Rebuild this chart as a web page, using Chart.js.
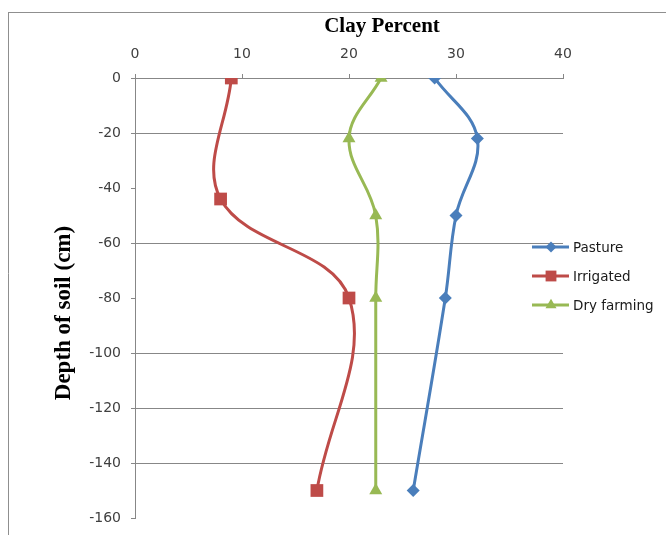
<!DOCTYPE html>
<html>
<head>
<meta charset="utf-8">
<script src="https://cdn.jsdelivr.net/npm/chart.js@4.4.0/dist/chart.umd.min.js"></script>
<style>
  html, body { margin: 0; padding: 0; background: #fff; }
  #wrap { width: 666px; height: 535px; position: relative; }
</style>
</head>
<body>
<div id="wrap"><canvas id="c" width="666" height="535"></canvas></div>
<script>
// Clay content (%) by soil depth (cm) for three land uses
const seriesNames = ['Pasture', 'Irrigated', 'Dry farming'];
const pastureClay = [28, 32, 30, 29, 26];
const pastureDepth = [0, -22, -50, -80, -150];
const irrigatedClay = [9, 8, 20, 17];
const irrigatedDepth = [0, -44, -80, -150];
const dryClay = [23, 20, 22.5, 22.5, 22.5];
const dryDepth = [0, -22, -50, -80, -150];

const clayTicks = [0, 10, 20, 30, 40];
const depthTicks = [0, -20, -40, -60, -80, -100, -120, -140, -160];

const xTitle = 'Clay Percent';
const yTitle = 'Depth of soil (cm)';

const colors = ['#4A7EBB', '#BE4B48', '#98B954'];
const markers = [
  { style: 'rectRot', radius: 6.5 },
  { style: 'rect', radius: 9 },
  { style: 'triangle', radius: 7.5 }
];

function pairs(xs, ys) { return xs.map((x, i) => ({ x: x, y: ys[i] })); }

const dataSets = [pairs(pastureClay, pastureDepth), pairs(irrigatedClay, irrigatedDepth), pairs(dryClay, dryDepth)];

const datasets = dataSets.map((d, i) => ({
  label: seriesNames[i],
  data: d,
  showLine: true,
  borderColor: colors[i],
  backgroundColor: colors[i],
  borderWidth: 3,
  tension: 0.38,
  pointStyle: markers[i].style,
  pointRadius: markers[i].radius,
  pointHoverRadius: markers[i].radius,
  pointBorderWidth: 0,
  pointBackgroundColor: colors[i],
  order: 3 - i
}));

const GRID = '#878787';
const tickFont = { family: 'DejaVu Sans', size: 14 };
const hiddenGrid = [-40, -80, -160];

// Outer frame, axis titles and legend
const decorations = {
  id: 'decorations',
  beforeDraw(chart) {
    const ctx = chart.ctx;
    ctx.save();
    ctx.strokeStyle = '#8f8f8f';
    ctx.lineWidth = 1;
    ctx.beginPath();
    ctx.moveTo(8, 12.5); ctx.lineTo(666, 12.5);
    ctx.moveTo(8.5, 12); ctx.lineTo(8.5, 535);
    ctx.stroke();
    ctx.restore();
  },
  afterDraw(chart) {
    const ctx = chart.ctx;
    ctx.save();
    ctx.fillStyle = '#000';
    ctx.font = 'bold 21px "Liberation Serif"';
    ctx.textAlign = 'center';
    ctx.textBaseline = 'middle';
    ctx.fillText(xTitle, 382, 27);

    ctx.translate(64, 313);
    ctx.rotate(-Math.PI / 2);
    ctx.font = 'bold 23px "Liberation Serif"';
    ctx.fillText(yTitle, 0, 0);
    ctx.restore();

    // legend
    const legendX = 532, legendTop = 247, legendGap = 29;
    chart.data.datasets.forEach((ds, i) => {
      const y = legendTop + i * legendGap;
      ctx.save();
      ctx.strokeStyle = ds.borderColor;
      ctx.lineWidth = 3;
      ctx.beginPath();
      ctx.moveTo(legendX, y); ctx.lineTo(legendX + 37, y);
      ctx.stroke();
      ctx.fillStyle = ds.pointBackgroundColor;
      Chart.helpers.drawPoint(ctx, { pointStyle: ds.pointStyle, radius: ds.pointRadius * 0.85, borderWidth: 0 }, legendX + 19, y);
      ctx.fillStyle = '#1a1a1a';
      ctx.font = '13.5px "DejaVu Sans"';
      ctx.textAlign = 'left';
      ctx.textBaseline = 'middle';
      ctx.fillText(ds.label, legendX + 41, y + 1);
      ctx.restore();
    });
  }
};

new Chart(document.getElementById('c'), {
  type: 'scatter',
  data: { datasets: datasets },
  options: {
    responsive: false,
    devicePixelRatio: 1,
    animation: false,
    layout: { padding: { left: 8, top: 12, right: 103, bottom: 17 } },
    plugins: { legend: { display: false }, tooltip: { enabled: false } },
    scales: {
      x: {
        type: 'linear',
        position: 'top',
        min: clayTicks[0],
        max: clayTicks[clayTicks.length - 1],
        afterBuildTicks(scale) { scale.ticks = clayTicks.map(v => ({ value: v })); },
        afterFit(scale) { scale.height = 66; scale.paddingLeft = 0; scale.paddingRight = 0; },
        border: { display: true, color: GRID, width: 1 },
        grid: { drawOnChartArea: false, drawTicks: true, tickLength: 4, color: GRID },
        ticks: { font: tickFont, color: '#404040', padding: 11, maxRotation: 0 }
      },
      y: {
        type: 'linear',
        min: depthTicks[depthTicks.length - 1],
        max: depthTicks[0],
        afterBuildTicks(scale) { scale.ticks = depthTicks.map(v => ({ value: v })); },
        afterFit(scale) { scale.width = 127; scale.paddingTop = 0; scale.paddingBottom = 0; },
        border: { display: true, color: GRID, width: 1 },
        grid: {
          drawTicks: true,
          tickLength: 4,
          tickColor: GRID,
          color: c => (c.tick && hiddenGrid.includes(c.tick.value)) ? 'rgba(0,0,0,0)' : GRID
        },
        ticks: { font: tickFont, color: '#404040', padding: 10 }
      }
    }
  },
  plugins: [decorations]
});
</script>
</body>
</html>
